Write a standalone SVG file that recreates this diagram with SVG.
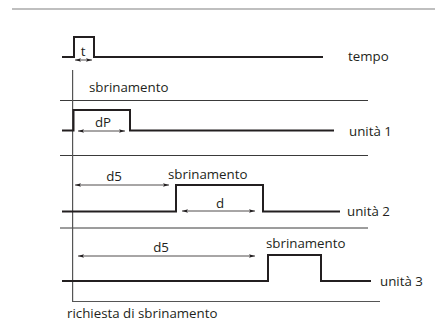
<svg xmlns="http://www.w3.org/2000/svg" width="435" height="321" viewBox="0 0 435 321">
<style>
.sig{fill:none;stroke:#231f20;stroke-width:2;stroke-linejoin:miter}
.sep{fill:none;stroke:#3a3a3a;stroke-width:1}
.frame{fill:none;stroke:#555;stroke-width:1.2}
.dim{fill:none;stroke:#231f20;stroke-width:0.8;marker-start:url(#a);marker-end:url(#a)}
text{font-family:"Open Sans","Noto Sans","Liberation Sans",sans-serif;font-size:13.3px;fill:#231f20}
</style>
<defs>
<marker id="a" viewBox="0 0 10 6" refX="10" refY="3" markerWidth="6" markerHeight="4" markerUnits="userSpaceOnUse" orient="auto-start-reverse">
<path d="M0,0 L10,3 L0,6 L2,3 Z" fill="#231f20"/>
</marker>
</defs>
<rect width="435" height="321" fill="#fff"/>
<line x1="12" y1="9" x2="435" y2="9" stroke="#aaa" stroke-width="1.5"/>
<g id="connectors">
<line class="sep" x1="60" y1="100.5" x2="368" y2="100.5"/>
<line class="sep" x1="60" y1="155.5" x2="368" y2="155.5" stroke="#777"/>
<line class="sep" x1="60" y1="228" x2="368" y2="228"/>
<polyline class="frame" points="72.6,70 72.6,301.5 380,301.5"/>
<line class="dim" x1="75" y1="60" x2="92" y2="60"/>
<line class="dim" x1="78" y1="131" x2="125" y2="131"/>
<line class="dim" x1="75" y1="185" x2="169" y2="185"/>
<line class="dim" x1="182" y1="211" x2="255" y2="211"/>
<line class="dim" x1="78" y1="256" x2="255" y2="256"/>
</g>
<g id="tempo">
<polyline class="sig" points="62,57 74,57 74,37 94,37 94,57 323,57"/>
<text x="83" y="56" text-anchor="middle">t</text>
<text x="348" y="61">tempo</text>
</g>
<g id="sbrinamento-label">
<text x="89" y="92">sbrinamento</text>
</g>
<g id="unita1">
<polyline class="sig" points="62,130.5 73.5,130.5 73.5,110 130,110 130,130.5 334,130.5"/>
<text x="103" y="127" text-anchor="middle">dP</text>
<text x="349" y="135.5">unità 1</text>
</g>
<g id="unita2">
<polyline class="sig" points="62,211.5 176,211.5 176,185 263,185 263,211.5 340,211.5"/>
<text x="114" y="180.5" text-anchor="middle">d5</text>
<text x="168" y="179">sbrinamento</text>
<text x="220" y="208" text-anchor="middle">d</text>
<text x="347" y="216">unità 2</text>
</g>
<g id="unita3">
<polyline class="sig" points="62,281 268,281 268,255 321,255 321,281 371,281"/>
<text x="161" y="251.5" text-anchor="middle">d5</text>
<text x="266" y="248">sbrinamento</text>
<text x="380" y="286">unità 3</text>
</g>
<g id="richiesta">
<text x="67" y="318">richiesta di sbrinamento</text>
</g>
</svg>
